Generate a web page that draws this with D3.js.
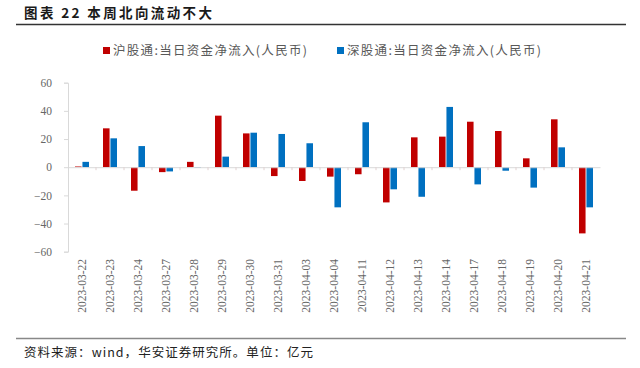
<!DOCTYPE html>
<html><head><meta charset="utf-8">
<script src="https://cdnjs.cloudflare.com/ajax/libs/d3/7.8.5/d3.min.js"></script>
<style>body{margin:0;background:#fff}svg{display:block}</style>
</head><body>
<svg id="c" width="640" height="368"></svg>
<script>
const categories = ["2023-03-22","2023-03-23","2023-03-24","2023-03-27","2023-03-28","2023-03-29","2023-03-30","2023-03-31","2023-04-03","2023-04-04","2023-04-11","2023-04-12","2023-04-13","2023-04-14","2023-04-17","2023-04-18","2023-04-19","2023-04-20","2023-04-21"];
const shValues = [0.5,27.6,-16.7,-3.5,3.8,36.6,24,-6.3,-9.8,-6.7,-5,-25,21.2,21.7,32.3,25.7,6.3,34,-47];
const szValues = [3.8,20.5,15,-3,-0.4,7.5,24.5,23.6,17,-28.5,31.9,-15.7,-21,42.8,-12.2,-2.5,-14.5,14.1,-28.5];
const seriesNames = ["沪股通:当日资金净流入(人民币)","深股通:当日资金净流入(人民币)"];
const colors = ["#C00000","#0070C0"];
const yTicks = [-60,-40,-20,0,20,40,60];
const title = "图表 22 本周北向流动不大";
const source = "资料来源：wind，华安证券研究所。单位：亿元";

(function(){
const svg = d3.select("#c");
const pL = 68, pR = 600, pT = 82.7, pB = 251.7;
const x = d3.scaleBand().domain(categories).range([pL, pR]).paddingInner(0).paddingOuter(0);
const y = d3.scaleLinear().domain([-60,60]).range([pB, pT]);
const sub = d3.scaleBand().domain([0,1]).range([7, 21]).paddingInner(0.12);

svg.append("text").attr("x",24).attr("y",18).attr("font-family","Noto Sans CJK SC").attr("font-weight","bold").attr("font-size",13.5)
  .attr("fill","#1a1a1a").attr("textLength",188).attr("lengthAdjust","spacing").style("white-space","pre").text(title);
svg.append("line").attr("x1",16).attr("x2",626).attr("y1",24.5).attr("y2",24.5).attr("stroke","#333").attr("stroke-width",1.5);

const ya = svg.append("g").attr("transform",`translate(${pL},0)`).call(d3.axisLeft(y).tickValues(yTicks).tickSize(4).tickPadding(12));
ya.select(".domain").attr("stroke","#d9d9d9");
ya.selectAll(".tick line").attr("stroke","#d9d9d9");
ya.selectAll("text").attr("font-family","Liberation Serif").attr("font-size",11.5).attr("fill","#666");

const data = [shValues, szValues];
data.forEach((vals, si) => {
  svg.append("g").selectAll("rect").data(vals).join("rect")
    .attr("x",(d,i)=>x(categories[i]) + sub(si))
    .attr("width",sub.bandwidth())
    .attr("y",d=>y(Math.max(0,d)))
    .attr("height",d=>Math.abs(y(d)-y(0)))
    .attr("fill",colors[si]);
});

const xa = svg.append("g").attr("transform",`translate(0,${y(0)})`).call(d3.axisBottom(x).tickSize(0).tickFormat(""));
xa.select(".domain").attr("stroke","#d9d9d9");
svg.append("g").selectAll("line").data(categories.slice(1)).join("line")
  .attr("x1",d=>x(d)).attr("x2",d=>x(d)).attr("y1",y(0)).attr("y2",y(0)+3).attr("stroke","#e0d0d0");

svg.append("g").selectAll("text").data(categories).join("text")
  .attr("transform",d=>`translate(${x(d)+x.bandwidth()/2+4},259) rotate(-90)`)
  .attr("text-anchor","end").attr("font-family","Liberation Serif").attr("font-size",11.5).attr("fill","#666").text(d=>d);

const lg = [{x:103,t:seriesNames[0],c:colors[0]},{x:337,t:seriesNames[1],c:colors[1]}];
lg.forEach(l=>{
  svg.append("rect").attr("x",l.x).attr("y",47).attr("width",7).attr("height",7).attr("fill",l.c);
  svg.append("text").attr("x",l.x+10).attr("y",55).attr("font-family","Noto Sans CJK SC").attr("font-size",12.5)
    .attr("textLength",194).attr("lengthAdjust","spacing").attr("fill","#595959").text(l.t);
});

svg.append("line").attr("x1",16).attr("x2",626).attr("y1",338.5).attr("y2",338.5).attr("stroke","#888").attr("stroke-width",1.3);
svg.append("text").attr("x",24).attr("y",357).attr("font-family","Noto Sans CJK SC").attr("font-size",12.5)
  .attr("textLength",289).attr("lengthAdjust","spacing").attr("fill","#222").text(source);
})();
</script>
</body></html>
